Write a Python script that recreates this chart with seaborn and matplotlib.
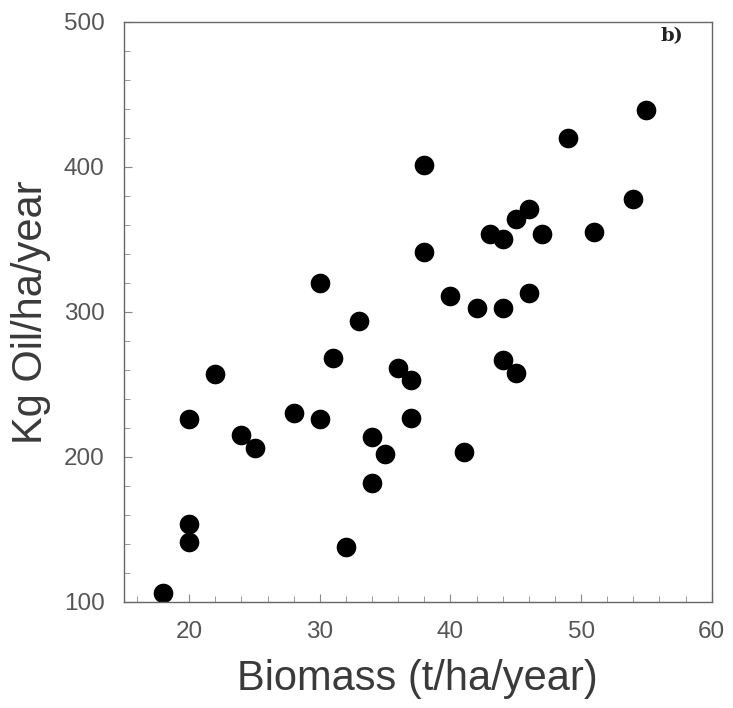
import matplotlib
matplotlib.use("Agg")
import matplotlib.pyplot as plt
from matplotlib.ticker import MultipleLocator
import seaborn as sns
import pandas as pd

biomass = [18, 20, 20, 20, 22, 24, 25, 28, 30, 30, 31, 32, 33, 34, 34, 35, 36, 37, 37,
           38, 38, 40, 41, 42, 43, 44, 44, 44, 45, 45, 46, 46, 47, 49, 51, 54, 55]
oil = [106, 154, 141, 226, 257, 215, 206, 230, 226, 320, 268, 138, 294, 214, 182, 202, 261, 253, 227,
       401, 341, 311, 203, 303, 354, 350, 303, 267, 364, 258, 371, 313, 354, 420, 355, 378, 439]

x_ticks = [20, 30, 40, 50, 60]
y_ticks = [100, 200, 300, 400, 500]

df = pd.DataFrame({"Biomass": biomass, "Oil": oil})

sns.set_theme(style="ticks")
plt.rcParams["font.family"] = ["Liberation Sans", "DejaVu Sans"]

fig = plt.figure(figsize=(7.33, 7.08), dpi=100)
ax = fig.add_axes([0.169, 0.150, 0.802, 0.819])

sns.scatterplot(data=df, x="Biomass", y="Oil", ax=ax, color="black", s=200,
                edgecolor="black", linewidth=0, legend=False)

ax.set_xlim(15, 60)
ax.set_ylim(100, 500)
ax.set_xticks(x_ticks)
ax.set_yticks(y_ticks)
ax.xaxis.set_minor_locator(MultipleLocator(2))
ax.yaxis.set_minor_locator(MultipleLocator(20))
ax.tick_params(axis="both", which="both", direction="in", colors="#888888",
               labelcolor="#555555", labelsize=17.5)
ax.tick_params(which="major", length=6, width=0.8, pad=14)
ax.tick_params(which="minor", length=4, width=0.6)

for sp in ax.spines.values():
    sp.set_color("#666666")
    sp.set_linewidth(1.0)

ax.set_xlabel("Biomass (t/ha/year)", fontsize=30, color="#3a3a3a", labelpad=11)
ax.set_ylabel("Kg Oil/ha/year", fontsize=30, color="#3a3a3a", labelpad=9)

ax.text(0.932, 0.991, "b)", transform=ax.transAxes, fontsize=14, fontweight="bold",
        family=["DejaVu Serif"], ha="center", va="top", color="#222222")

fig.savefig("out.png", dpi=100, facecolor="white")
